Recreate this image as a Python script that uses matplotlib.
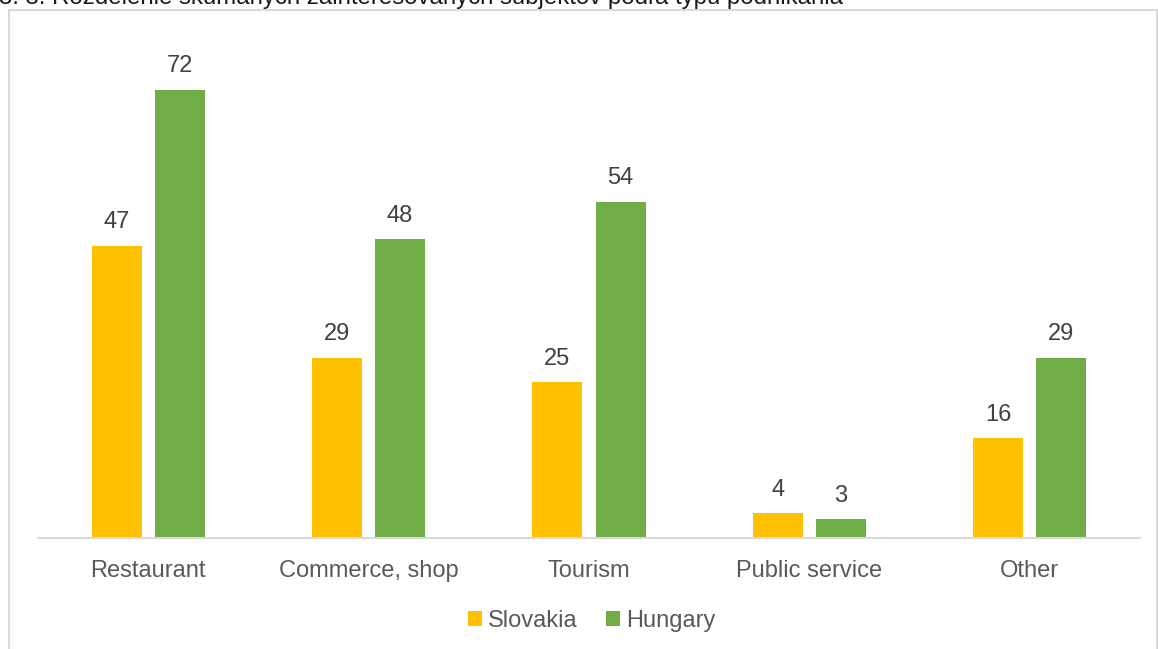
import matplotlib
matplotlib.use("Agg")
import matplotlib.pyplot as plt
from matplotlib.patches import Rectangle
import numpy as np

categories = ["Restaurant", "Commerce, shop", "Tourism", "Public service", "Other"]
slovakia = [47, 29, 25, 4, 16]
hungary = [72, 48, 54, 3, 29]
series_names = ["Slovakia", "Hungary"]
title = "3. 3. Rozdelenie skúmaných zainteresovaných subjektov podľa typu podnikania"

plt.rcParams["font.family"] = ["Liberation Sans", "DejaVu Sans"]
W, H = 1158, 649
fig = plt.figure(figsize=(W / 100, H / 100), dpi=100)

# outer chart border
fig.patches.append(Rectangle((9 / W, -0.05), (1157 - 9) / W, 1.05 - 10 / H,
                             transform=fig.transFigure, fill=False,
                             edgecolor="#d9d9d9", linewidth=1.5))

# caption, cut off at the top as in the source
fig.text(-1 / W, 1 - 4 / H, title, fontsize=17.3, color="#1a1a1a",
         ha="left", va="baseline")

ax = fig.add_axes([38 / W, 111 / H, (1140 - 38) / W, (538 - 40.2) / H])
x = np.arange(len(categories))
bw = 0.227
off = 0.143
text_color = "#595959"
b1 = ax.bar(x - off, slovakia, bw, color="#ffc000", label=series_names[0])
b2 = ax.bar(x + off, hungary, bw, color="#70ad47", label=series_names[1])
for bars, vals in ((b1, slovakia), (b2, hungary)):
    for r, v in zip(bars, vals):
        ax.annotate(str(v), (r.get_x() + r.get_width() / 2, v),
                    xytext=(0, 9), textcoords="offset points",
                    ha="center", va="bottom", fontsize=17, color="#404040")

ax.set_xlim(-0.5, len(categories) - 0.5)
ax.set_ylim(0, 80)
ax.set_xticks(x)
ax.set_xticklabels(categories, fontsize=17, color=text_color)
ax.tick_params(axis="x", length=0, pad=15.5)
ax.set_yticks([])
for s in ("top", "right", "left"):
    ax.spines[s].set_visible(False)
ax.spines["bottom"].set_color("#d9d9d9")
ax.spines["bottom"].set_linewidth(1.5)
ax.patch.set_alpha(0)

leg = fig.legend(loc="center", bbox_to_anchor=(592 / W, 1 - 621 / H), ncol=2,
                 frameon=False, fontsize=17, handlelength=0.6, handleheight=0.6,
                 handletextpad=0.25, columnspacing=1.2)
for t in leg.get_texts():
    t.set_color(text_color)

fig.savefig("out.png", dpi=100)
